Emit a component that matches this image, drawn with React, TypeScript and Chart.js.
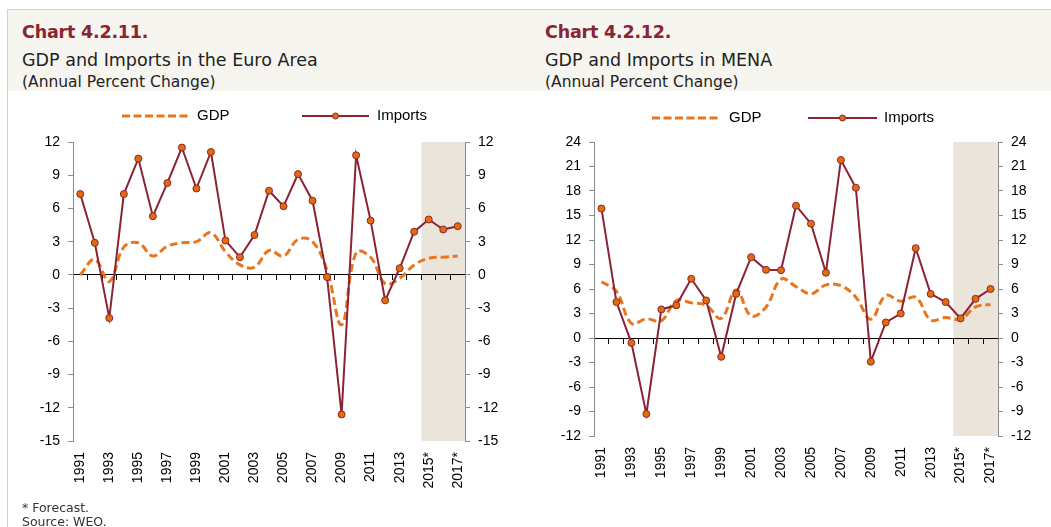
import React, { useEffect, useRef } from 'react';
import { Chart, registerables } from 'chart.js';

Chart.register(...registerables);

// ---------- data ----------
const years = [
  '1991', '1992', '1993', '1994', '1995', '1996', '1997', '1998', '1999', '2000',
  '2001', '2002', '2003', '2004', '2005', '2006', '2007', '2008', '2009', '2010',
  '2011', '2012', '2013', '2014', '2015*', '2016*', '2017*',
];
const shownYearLabels = [
  '1991', '1993', '1995', '1997', '1999', '2001', '2003', '2005', '2007',
  '2009', '2011', '2013', '2015*', '2017*',
];
const forecastStart = '2015*';

const euroGdp = [
  0.0, 1.4, -0.6, 2.5, 2.9, 1.7, 2.6, 2.9, 3.0, 3.8,
  2.1, 0.9, 0.7, 2.2, 1.7, 3.2, 3.0, 0.4, -4.5, 2.0,
  1.6, -0.8, -0.3, 0.9, 1.5, 1.6, 1.7,
];
const euroImports = [
  7.3, 2.9, -3.9, 7.3, 10.5, 5.3, 8.3, 11.5, 7.8, 11.1,
  3.1, 1.6, 3.6, 7.6, 6.2, 9.1, 6.7, -0.2, -12.6, 10.8,
  4.9, -2.3, 0.6, 3.9, 5.0, 4.1, 4.4,
];
const euroYTicks = [-15, -12, -9, -6, -3, 0, 3, 6, 9, 12];

const menaGdp = [
  6.9, 5.7, 1.8, 2.35, 2.1, 4.6, 4.3, 4.0, 2.4, 5.9,
  2.7, 3.8, 7.2, 6.3, 5.4, 6.5, 6.4, 5.0, 2.3, 5.2,
  4.5, 5.0, 2.2, 2.5, 2.3, 3.8, 4.1,
];
const menaImports = [
  15.85, 4.4, -0.6, -9.3, 3.5, 4.0, 7.25, 4.6, -2.3, 5.4,
  9.9, 8.35, 8.3, 16.2, 14.0, 8.0, 21.8, 18.4, -2.9, 1.9,
  3.0, 11.0, 5.4, 4.4, 2.4, 4.8, 6.0,
];
const menaYTicks = [-12, -9, -6, -3, 0, 3, 6, 9, 12, 15, 18, 21, 24];

const seriesNames = ['GDP', 'Imports'];

// ---------- styles ----------
const MAROON = '#8b2335';
const ORANGE = '#e8761e';
const MARKER = '#e36c0a';
const BAND = '#ebe4da';
const AXIS_GREY = '#8a8a8a';
const FONT = "'Liberation Sans', Arial, sans-serif";

const bandPlugin = {
  id: 'forecastBand',
  beforeDraw(chart: any) {
    const x = chart.scales.x;
    const { top, bottom, right } = chart.chartArea;
    const idx = years.indexOf(forecastStart);
    const half = (x.getPixelForValue(1) - x.getPixelForValue(0)) / 2;
    const left = x.getPixelForValue(idx) - half;
    const ctx = chart.ctx;
    ctx.save();
    ctx.fillStyle = BAND;
    ctx.fillRect(left, top, right - left, bottom - top);
    ctx.restore();
  },
};

// legend geometry (canvas px): [y, gdpLineX0, gdpLineX1, gdpTextX, impLineX0, impLineX1, impTextX]
type LegendGeo = number[];

const makeLegendPlugin = (g: LegendGeo) => ({
  id: 'customLegend',
  afterDraw(chart: any) {
    const ctx = chart.ctx;
    const [y, a0, a1, at, b0, b1, bt] = g;
    ctx.save();
    ctx.font = `15px ${FONT}`;
    ctx.textBaseline = 'middle';
    ctx.textAlign = 'left';
    // GDP dashed
    ctx.strokeStyle = ORANGE;
    ctx.lineWidth = 3;
    ctx.setLineDash([8, 3.5]);
    ctx.beginPath();
    ctx.moveTo(a0, y);
    ctx.lineTo(a1, y);
    ctx.stroke();
    ctx.setLineDash([]);
    ctx.fillStyle = '#000';
    ctx.fillText(seriesNames[0], at, y);
    // Imports line with marker
    ctx.strokeStyle = MAROON;
    ctx.lineWidth = 2;
    ctx.beginPath();
    ctx.moveTo(b0, y);
    ctx.lineTo(b1, y);
    ctx.stroke();
    ctx.beginPath();
    ctx.arc((b0 + b1) / 2, y, 3, 0, Math.PI * 2);
    ctx.fillStyle = MARKER;
    ctx.fill();
    ctx.lineWidth = 1;
    ctx.stroke();
    ctx.fillStyle = '#000';
    ctx.fillText(seriesNames[1], bt, y);
    ctx.restore();
  },
});

type PanelProps = {
  gdp: number[];
  imports: number[];
  yTicks: number[];
  width: number;
  height: number;
  leftW: number;
  rightW: number;
  padTop: number;
  xHeight: number;
  legend: LegendGeo;
};

function Panel(p: PanelProps) {
  const ref = useRef<HTMLCanvasElement>(null);
  useEffect(() => {
    if (!ref.current) return;
    const yMin = p.yTicks[0];
    const yMax = p.yTicks[p.yTicks.length - 1];
    const step = p.yTicks[1] - p.yTicks[0];
    const yAxis = (pos: 'left' | 'right', w: number) => ({
      position: pos,
      min: yMin,
      max: yMax,
      ticks: {
        stepSize: step,
        color: '#000',
        font: { family: FONT, size: 14 },
        padding: 8,
      },
      grid: {
        display: true,
        drawOnChartArea: false,
        drawTicks: true,
        tickLength: 5,
        color: AXIS_GREY,
      },
      border: { display: true, color: AXIS_GREY, width: 1 },
      afterFit: (s: any) => {
        s.width = w;
      },
    });
    const chart = new Chart(ref.current, {
      type: 'line',
      data: {
        labels: years,
        datasets: [
          {
            label: seriesNames[1],
            data: p.imports,
            borderColor: MAROON,
            borderWidth: 2,
            tension: 0,
            pointRadius: 3.5,
            pointBackgroundColor: MARKER,
            pointBorderColor: MAROON,
            pointBorderWidth: 1,
            xAxisID: 'x',
            yAxisID: 'y',
            order: 0,
          },
          {
            label: seriesNames[0],
            data: p.gdp,
            borderColor: ORANGE,
            borderWidth: 3,
            borderDash: [8, 4],
            tension: 0.4,
            pointRadius: 0,
            xAxisID: 'x',
            yAxisID: 'y',
            order: 1,
          },
        ],
      },
      options: {
        animation: false,
        responsive: false,
        maintainAspectRatio: false,
        layout: { padding: { top: p.padTop, left: 0, right: 0, bottom: 0 } },
        plugins: { legend: { display: false }, tooltip: { enabled: false } },
        scales: {
          x: {
            type: 'category',
            position: 'bottom',
            offset: true,
            grid: { display: false, drawTicks: false },
            border: { display: false },
            ticks: {
              autoSkip: false,
              maxRotation: 90,
              minRotation: 90,
              padding: 11,
              color: '#000',
              font: { family: FONT, size: 14 },
              callback: function (this: any, v: any) {
                const l = this.getLabelForValue(v);
                return shownYearLabels.includes(l) ? l : '';
              },
            },
            afterFit: (s: any) => {
              s.height = p.xHeight;
            },
          },
          x2: {
            type: 'category',
            position: { y: 0 },
            offset: true,
            grid: {
              display: true,
              offset: true,
              drawOnChartArea: false,
              drawTicks: true,
              tickLength: 5,
              color: '#000',
            },
            border: { display: true, color: '#000', width: 1 },
            ticks: { display: false },
          },
          y: yAxis('left', p.leftW),
          y2: yAxis('right', p.rightW),
        },
      } as any,
      plugins: [bandPlugin, makeLegendPlugin(p.legend)],
    });
    return () => chart.destroy();
  }, []);
  return <canvas ref={ref} width={p.width} height={p.height} style={{ display: 'block' }} />;
}

const titleStyle: React.CSSProperties = {
  position: 'absolute',
  fontFamily: "'DejaVu Sans', sans-serif",
  fontWeight: 700,
  fontSize: 17.5,
  lineHeight: '18px',
  letterSpacing: '-0.2px',
  color: '#8b2332',
  whiteSpace: 'nowrap',
};
const subStyle: React.CSSProperties = {
  position: 'absolute',
  fontFamily: "'DejaVu Sans', sans-serif",
  fontSize: 17.5,
  lineHeight: '18px',
  color: '#222',
  whiteSpace: 'nowrap',
};
const unitStyle: React.CSSProperties = {
  position: 'absolute',
  fontFamily: "'DejaVu Sans', sans-serif",
  fontSize: 15.5,
  lineHeight: '16px',
  color: '#222',
  whiteSpace: 'nowrap',
};
const noteStyle: React.CSSProperties = {
  position: 'absolute',
  fontFamily: "'DejaVu Sans', sans-serif",
  fontSize: 12.5,
  lineHeight: '13px',
  color: '#333',
  whiteSpace: 'nowrap',
};

export default function App() {
  return (
    <div style={{ position: 'absolute', left: 0, top: 0, width: 1051, height: 527, background: '#fff', overflow: 'hidden' }}>
      <div style={{ position: 'absolute', left: 7, top: 9, width: 1044, height: 1, background: '#d8d1c5' }} />
      <div style={{ position: 'absolute', left: 7, top: 9, width: 1, height: 518, background: '#d8d1c5' }} />
      <div style={{ position: 'absolute', left: 8, top: 10, width: 1043, height: 81, background: '#f7f5f0' }} />

      <div style={{ ...titleStyle, left: 22, top: 23 }}>Chart 4.2.11.</div>
      <div style={{ ...subStyle, left: 22, top: 51 }}>GDP and Imports in the Euro Area</div>
      <div style={{ ...unitStyle, left: 22, top: 74 }}>(Annual Percent Change)</div>

      <div style={{ ...titleStyle, left: 545, top: 23 }}>Chart 4.2.12.</div>
      <div style={{ ...subStyle, left: 545, top: 51 }}>GDP and Imports in MENA</div>
      <div style={{ ...unitStyle, left: 545, top: 74 }}>(Annual Percent Change)</div>

      <div style={{ position: 'absolute', left: 8, top: 91 }}>
        <Panel gdp={euroGdp} imports={euroImports} yTicks={euroYTicks} width={522} height={410}
          leftW={65} rightW={65} padTop={51} xHeight={60}
          legend={[25, 114, 180, 189, 294, 361, 369]} />
      </div>
      <div style={{ position: 'absolute', left: 530, top: 91 }}>
        <Panel gdp={menaGdp} imports={menaImports} yTicks={menaYTicks} width={521} height={436}
          leftW={64} rightW={53} padTop={51} xHeight={91}
          legend={[27, 122, 190, 199, 278, 347, 354]} />
      </div>

      <div style={{ ...noteStyle, left: 22, top: 501 }}>* Forecast.</div>
      <div style={{ ...noteStyle, left: 22, top: 515 }}>Source: WEO.</div>
    </div>
  );
}
